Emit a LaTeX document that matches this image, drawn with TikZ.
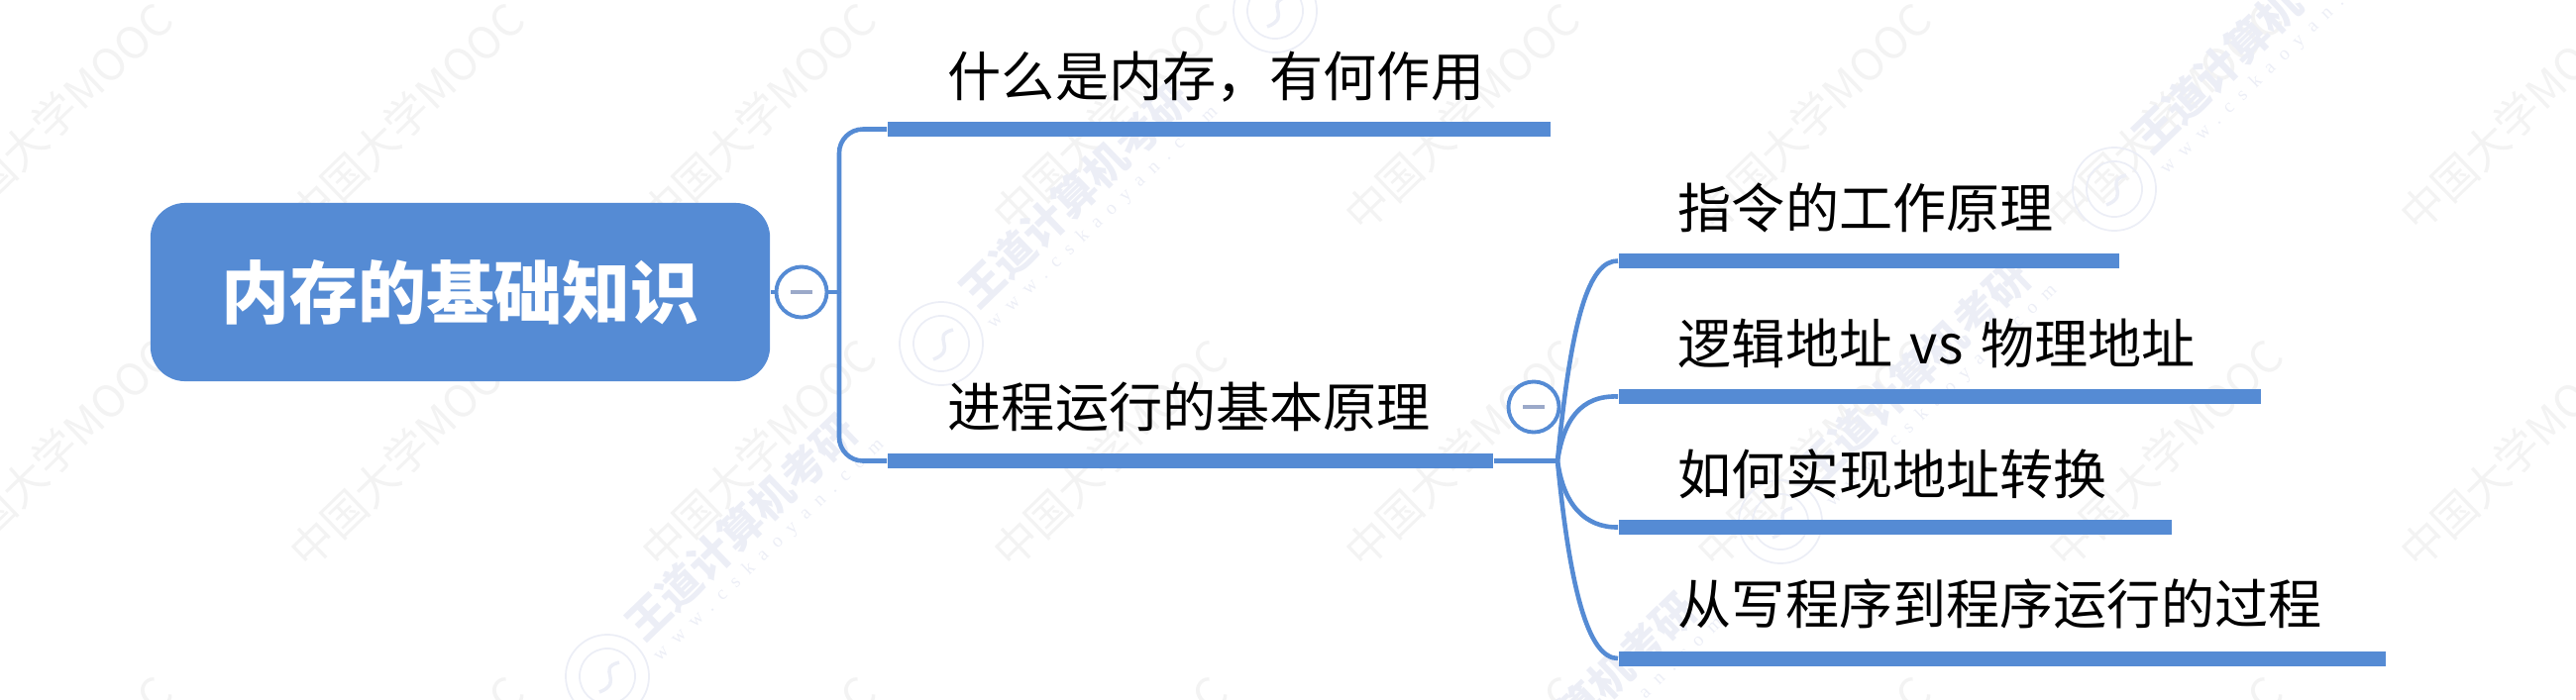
\documentclass[tikz,border=0pt]{standalone}
\usepackage{fontspec}
\usepackage{xcolor}
\setmainfont{Noto Sans CJK SC}
\newfontfamily\wwwfont[LetterSpace=55]{Liberation Serif}
\usetikzlibrary{positioning, calc}
\definecolor{mapBlue}{HTML}{558BD4}
\definecolor{mapMinus}{HTML}{9BA9C9}
\definecolor{markGrey}{HTML}{F3F3F3}
\definecolor{markLav}{HTML}{ECEEF6}
\tikzstyle{rootbox} = [rectangle, rounded corners=.35cm, minimum width=6.25cm, minimum height=1.8cm, fill=mapBlue, text=white, font=\fontsize{19.6}{23}\selectfont\bfseries]
\tikzstyle{topic} = [anchor=west, inner sep=0pt, text height=.41cm, text depth=.07cm, yshift=-.035cm, font=\fontsize{15.4}{18}\selectfont]
\tikzstyle{topicbar} = [rectangle, anchor=west, minimum height=.15cm, inner sep=0pt, fill=mapBlue]
\tikzstyle{link} = [line width=1.3pt, draw=mapBlue]
\tikzstyle{toggle} = [circle, minimum size=.51cm, inner sep=0pt, line width=1.1pt, draw=mapBlue, fill=white, path picture={\draw [mapMinus, line width=1.4pt] ($(path picture bounding box.center)+(-.11cm,0)$) -- ++(.22cm,0);}]
\tikzstyle{markmooc} = [rotate=44, text=markGrey, font=\fontsize{12.6}{15}\selectfont]
\tikzstyle{markname} = [rotate=44, text=markLav, font=\fontsize{12.3}{15}\selectfont\bfseries]
\tikzstyle{markweb} = [rotate=44, text=markLav, font=\fontsize{5.5}{7}\wwwfont]
\tikzstyle{markring} = [circle, minimum size=.84cm, inner sep=0pt, line width=.5pt, draw=markLav]

\begin{document}
\begin{tikzpicture}[x=.01cm, y=-.01cm]
\useasboundingbox (0,0) rectangle (2600,706);

% watermark
\foreach \wx in {55,410,765,1120,1475,1830,2185,2540} {
  \foreach \wy in {118,458,798} {
    \node (mooc\wx\wy) [markmooc] at (\wx,\wy) {中国大学MOOC};
  }
}
\foreach \lx/\ly in {613/683,950/347,1287/11,1460/863,1797/527,2134/191} {
  \node (seal\lx) [markring] at (\lx,\ly) {};
  \node (sealin\lx) [markring, minimum size=.56cm] at (\lx,\ly) {};
  \draw [markLav, line width=1pt] ($(\lx,\ly)+(12,-14)$) .. controls ($(\lx,\ly)+(-12,-8)$) and ($(\lx,\ly)+(18,6)$) .. ($(\lx,\ly)+(-8,16)$);
  \node (name\lx) [markname] at ($(\lx,\ly)+(135,-150)$) {王道计算机考研};
  \node (web\lx) [markweb] at ($(\lx,\ly)+(163,-127)$) {www.cskaoyan.com};
}

% root
\node (root) [rootbox] at (464.5,295) {\raisebox{-.06cm}{内存的基础知识}};
\node (rootToggle) [toggle] at (809,295) {};
\coordinate (rootFork) at (847,295);

% first level
\node (memBar) [topicbar, minimum width=6.69cm] at (895,130.5) {};
\node (memText) [topic] at (956,77) {什么是内存，有何作用};
\node (procBar) [topicbar, minimum width=6.11cm] at (895,465.5) {};
\node (procText) [topic] at (956,411) {进程运行的基本原理};
\node (procToggle) [toggle] at (1548,411) {};
\coordinate (procFork) at (1572,465.5);

% second level
\node (instrBar) [topicbar, minimum width=5.05cm] at (1633,263.5) {};
\node (instrText) [topic] at (1693,210) {指令的工作原理};
\node (addrBar) [topicbar, minimum width=6.48cm] at (1633,400.5) {};
\node (addrText) [topic] at (1693,347) {逻辑地址\hspace{.055cm} vs \hspace{.055cm}物理地址};
\node (convBar) [topicbar, minimum width=5.58cm] at (1633,532.5) {};
\node (convText) [topic] at (1693,479) {如何实现地址转换};
\node (runBar) [topicbar, minimum width=7.74cm] at (1633,665) {};
\node (runText) [topic] at (1693,610) {从写程序到程序运行的过程};

% connectors
\draw [link] (root) -- (rootToggle);
\draw [link] (rootToggle) -- (rootFork);
\draw [link, rounded corners=.24cm] (rootFork) |- (memBar.west);
\draw [link, rounded corners=.24cm] (rootFork) |- (procBar.west);
\draw [link] (procBar.east) -- (procFork);
\draw [link] (procFork) .. controls (1586,320) and (1604,263) .. (instrBar.west);
\draw [link] (procFork) .. controls (1578,425) and (1595,399) .. (addrBar.west);
\draw [link] (procFork) .. controls (1578,510) and (1600,533) .. (convBar.west);
\draw [link] (procFork) .. controls (1585,600) and (1604,665) .. (runBar.west);

\end{tikzpicture}
\end{document}
